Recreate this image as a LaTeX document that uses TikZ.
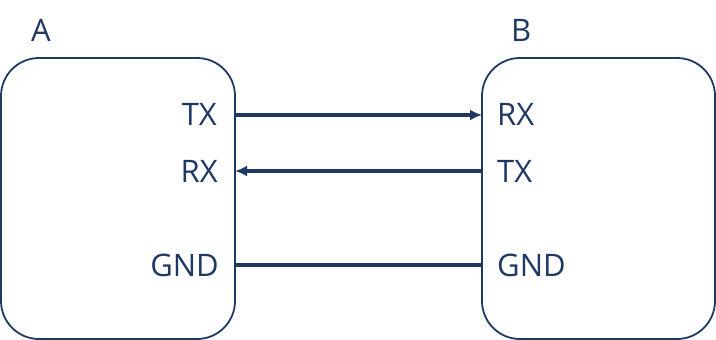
\documentclass[tikz,border=0pt]{standalone}
\usepackage{fontspec}
\setmainfont{Open Sans}
\usetikzlibrary{arrows.meta}
\definecolor{navy}{HTML}{203864}
\begin{document}
\begin{tikzpicture}[x=1pt,y=-1pt,
  box/.style={draw=navy,line width=1.8pt,rounded corners=38pt},
  lbl/.style={text=navy,font=\fontsize{31}{37}\selectfont,inner sep=0pt},
  wire/.style={draw=navy,line width=3.2pt},
  tip/.style={-{Latex[length=12pt,width=11pt]}}]
\useasboundingbox (0,0) rectangle (716,340);
\draw[box] (1,58) rectangle (235,339);
\draw[box] (482,58) rectangle (715,339);
\node[lbl,anchor=west] (A) at (31,30) {A};
\node[lbl,anchor=west] (B) at (511,30) {B};
\node[lbl,anchor=east] (atx) at (217,114) {TX};
\node[lbl,anchor=east] (arx) at (218,171) {RX};
\node[lbl,anchor=east] (agnd) at (219,265) {GND};
\node[lbl,anchor=west] (brx) at (497,114) {RX};
\node[lbl,anchor=west] (btx) at (497,171) {TX};
\node[lbl,anchor=west] (bgnd) at (497,265) {GND};
\coordinate (a1) at (235,115);
\coordinate (b1) at (482,115);
\coordinate (a2) at (235,171);
\coordinate (b2) at (482,171);
\coordinate (a3) at (235,265);
\coordinate (b3) at (482,265);
\draw[wire,tip] (a1) -- (b1);
\draw[wire,tip] (b2) -- (a2);
\draw[wire] (a3) -- (b3);
\end{tikzpicture}
\end{document}
